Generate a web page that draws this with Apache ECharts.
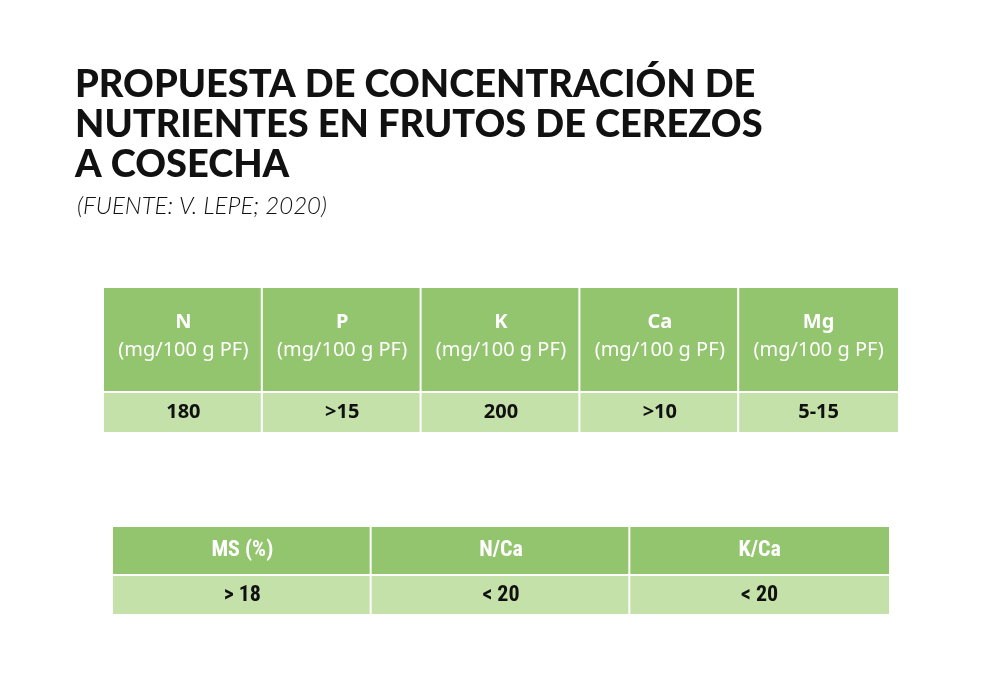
<!DOCTYPE html>
<html><head><meta charset="utf-8">
<script src="https://cdn.jsdelivr.net/npm/echarts@6/dist/echarts.min.js"></script>
<style>html,body{margin:0;padding:0;background:#fff}#c{width:1000px;height:673px}</style>
</head><body><div id="c"></div>
<script>
const titleLines = ['PROPUESTA DE CONCENTRACIÓN DE', 'NUTRIENTES EN FRUTOS DE CEREZOS', 'A COSECHA'];
const sourceText = '(FUENTE: V. LEPE; 2020)';
const nutrients = ['N', 'P', 'K', 'Ca', 'Mg'];
const nutrientUnit = '(mg/100 g PF)';
const nutrientValues = ['180', '>15', '200', '>10', '5-15'];
const ratioHeaders = ['MS (%)', 'N/Ca', 'K/Ca'];
const ratioValues = ['> 18', '< 20', '< 20'];

const HEAD = '#93c56f', VAL = '#c4e1aa';
const chart = echarts.init(document.getElementById('c'), null, {renderer: 'canvas'});

function cellRenderer(fill, textFn, gap) {
  return function (params, api) {
    const c = api.coord([api.value(0), api.value(1)]);
    const w = api.size([1, 0])[0];
    const h = api.size([0, 1])[1];
    const idx = params.dataIndex;
    const isLast = idx === params.dataInsideLength - 1;
    const x = c[0] - w / 2;
    return {
      type: 'group',
      children: [
        {type: 'rect', shape: {x: x, y: c[1] - h / 2, width: isLast ? w : w - gap, height: h}, style: {fill: fill}},
        {type: 'text', x: c[0], y: c[1], style: textFn(idx)}
      ]
    };
  };
}

const grids = [
  {left: 104, top: 288, width: 794, height: 103},
  {left: 104, top: 393, width: 794, height: 39},
  {left: 113, top: 527, width: 776, height: 47},
  {left: 113, top: 576, width: 776, height: 38}
];
const cats = [nutrients, nutrients, ratioHeaders, ratioHeaders];
const xAxes = cats.map((c, i) => ({type: 'category', gridIndex: i, data: c, show: false}));
const yAxes = cats.map((c, i) => ({type: 'category', gridIndex: i, data: ['r'], show: false}));

const narrow = '"Liberation Sans Narrow", "Roboto Condensed", "DejaVu Sans Condensed", sans-serif';
const segoe = '"Noto Sans", "Open Sans", sans-serif';

const series = [
  {
    type: 'custom', xAxisIndex: 0, yAxisIndex: 0,
    data: nutrients.map((n, i) => [i, 0]),
    renderItem: cellRenderer(HEAD, i => ({
      text: '{b|' + nutrients[i] + '}\n{r|' + nutrientUnit + '}',
      align: 'center', verticalAlign: 'middle', y: -3,
      rich: {
        b: {fontFamily: segoe, fontWeight: 'bold', fontSize: 20, fill: '#fff', lineHeight: 28, align: 'center'},
        r: {fontFamily: segoe, fontWeight: 'normal', fontSize: 20, fill: '#fff', lineHeight: 28, align: 'center'}
      }
    }), 2)
  },
  {
    type: 'custom', xAxisIndex: 1, yAxisIndex: 1,
    data: nutrientValues.map((v, i) => [i, 0]),
    renderItem: cellRenderer(VAL, i => ({
      text: nutrientValues[i], align: 'center', verticalAlign: 'middle',
      fontFamily: segoe, fontWeight: 'bold', fontSize: 20, fill: '#111'
    }), 2)
  },
  {
    type: 'custom', xAxisIndex: 2, yAxisIndex: 2,
    data: ratioHeaders.map((v, i) => [i, 0]),
    renderItem: cellRenderer(HEAD, i => ({
      text: ratioHeaders[i], align: 'center', verticalAlign: 'middle',
      fontFamily: narrow, fontWeight: 'bold', fontSize: 22, fill: '#fff'
    }), 2)
  },
  {
    type: 'custom', xAxisIndex: 3, yAxisIndex: 3,
    data: ratioValues.map((v, i) => [i, 0]),
    renderItem: cellRenderer(VAL, i => ({
      text: ratioValues[i], align: 'center', verticalAlign: 'middle',
      fontFamily: narrow, fontWeight: 'bold', fontSize: 22, fill: '#111'
    }), 2)
  }
];

chart.setOption({
  backgroundColor: '#fff',
  animation: false,
  title: [
    {text: titleLines.join('\n'), left: 70, top: 60,
     textStyle: {fontFamily: 'Lato, "Open Sans", sans-serif', fontWeight: 900, fontSize: 38, lineHeight: 40, color: '#111'}},
    {text: sourceText, left: 72, top: 189,
     textStyle: {fontFamily: 'Lato, "Open Sans", sans-serif', fontWeight: 300, fontStyle: 'italic', fontSize: 24, color: '#111'}}
  ],
  grid: grids,
  xAxis: xAxes,
  yAxis: yAxes,
  series: series
});
</script></body></html>
